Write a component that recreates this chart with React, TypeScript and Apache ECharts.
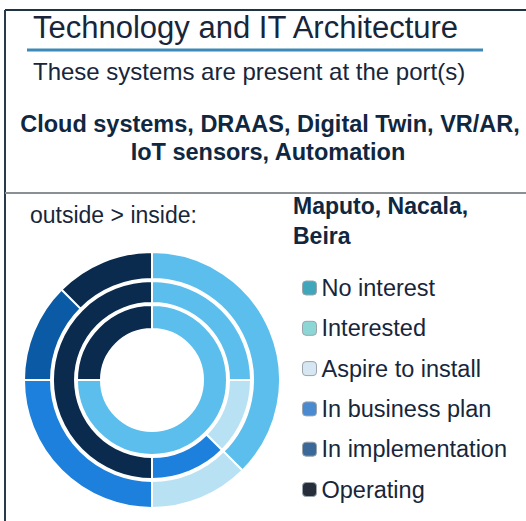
import React, { useEffect, useRef } from "react";
import * as echarts from "echarts";

const statuses = [
  "No interest",
  "Interested",
  "Aspire to install",
  "In business plan",
  "In implementation",
  "Operating",
];
// share of systems per status, outer ring -> inner ring
const maputo = [0, 37.5, 12.5, 25, 12.5, 12.5];
const nacala = [0, 25, 12.5, 12.5, 0, 50];
const beira = [0, 75, 0, 0, 0, 25];

const sliceColors = ["#3AA0C8", "#5BBEEC", "#B9E1F4", "#1C80DC", "#0B5AA6", "#0A2A4E"];
const legendColors = ["#3FA6BC", "#8DD6D6", "#D6E6F2", "#4A8AD0", "#3A6898", "#262E3C"];

const FONT = "'Liberation Sans', Arial, sans-serif";
const TEXT = "#17263a";

export default function App() {
  const ref = useRef<HTMLDivElement>(null);

  useEffect(() => {
    if (!ref.current) return;
    const chart = echarts.init(ref.current, undefined, { renderer: "svg" });

    const ring = (name: string, values: number[], radius: [number, number]) => ({
      type: "pie",
      name,
      center: [152, 380],
      radius,
      startAngle: 90,
      clockwise: true,
      silent: true,
      label: { show: false },
      labelLine: { show: false },
      emphasis: { disabled: true },
      itemStyle: { borderColor: "#ffffff", borderWidth: 2 },
      data: statuses.map((s, i) => ({
        name: s,
        value: values[i],
        itemStyle: { color: sliceColors[i] },
      })),
    });

    chart.setOption({
      animation: false,
      backgroundColor: "#ffffff",
      legend: {
        orient: "vertical",
        left: 297,
        top: 270,
        itemWidth: 14,
        itemHeight: 14,
        itemGap: 14.3,
        icon: "roundRect",
        selectedMode: false,
        textStyle: { fontFamily: FONT, fontSize: 23.5, color: TEXT, lineHeight: 26 },
        data: statuses.map((s, i) => ({
          name: s,
          itemStyle: { color: legendColors[i], borderColor: "#9aa4ac", borderWidth: 1 },
        })),
      },
      series: [
        ring("Maputo", maputo, [101, 128]),
        ring("Nacala", nacala, [77, 99]),
        ring("Beira", beira, [51, 75]),
      ],
      graphic: [
        { type: "line", shape: { x1: 5, y1: 10, x2: 526, y2: 10 }, style: { stroke: "#1f3347", lineWidth: 2 } },
        { type: "line", shape: { x1: 5, y1: 10, x2: 5, y2: 521 }, style: { stroke: "#2a3a4a", lineWidth: 2 } },
        { type: "line", shape: { x1: 5, y1: 193, x2: 526, y2: 193 }, style: { stroke: "#8a8f94", lineWidth: 2 } },
        { type: "line", shape: { x1: 27, y1: 50, x2: 483, y2: 50 }, style: { stroke: "#3d8ab8", lineWidth: 3 } },
        {
          type: "text", x: 33, y: 27,
          style: { text: "Technology and IT Architecture", font: `31px ${FONT}`, fill: TEXT, textVerticalAlign: "middle" },
        },
        {
          type: "text", x: 33, y: 71,
          style: { text: "These systems are present at the port(s)", font: `24px ${FONT}`, fill: TEXT, textVerticalAlign: "middle" },
        },
        {
          type: "text", x: 270, y: 124,
          style: { text: "Cloud systems, DRAAS, Digital Twin, VR/AR,", font: `bold 23.5px ${FONT}`, fill: "#0f2740", textAlign: "center", textVerticalAlign: "middle" },
        },
        {
          type: "text", x: 268, y: 152,
          style: { text: "IoT sensors, Automation", font: `bold 23.5px ${FONT}`, fill: "#0f2740", textAlign: "center", textVerticalAlign: "middle" },
        },
        {
          type: "text", x: 30, y: 215,
          style: { text: "outside > inside:", font: `23px ${FONT}`, fill: TEXT, textVerticalAlign: "middle" },
        },
        {
          type: "text", x: 293, y: 206,
          style: { text: "Maputo, Nacala,", font: `bold 23px ${FONT}`, fill: "#0f2740", textVerticalAlign: "middle" },
        },
        {
          type: "text", x: 293, y: 236,
          style: { text: "Beira", font: `bold 23px ${FONT}`, fill: "#0f2740", textVerticalAlign: "middle" },
        },
      ],
    });

    return () => chart.dispose();
  }, []);

  return (
    <div
      ref={ref}
      style={{ position: "fixed", left: 0, top: 0, width: 526, height: 521 }}
    />
  );
}
